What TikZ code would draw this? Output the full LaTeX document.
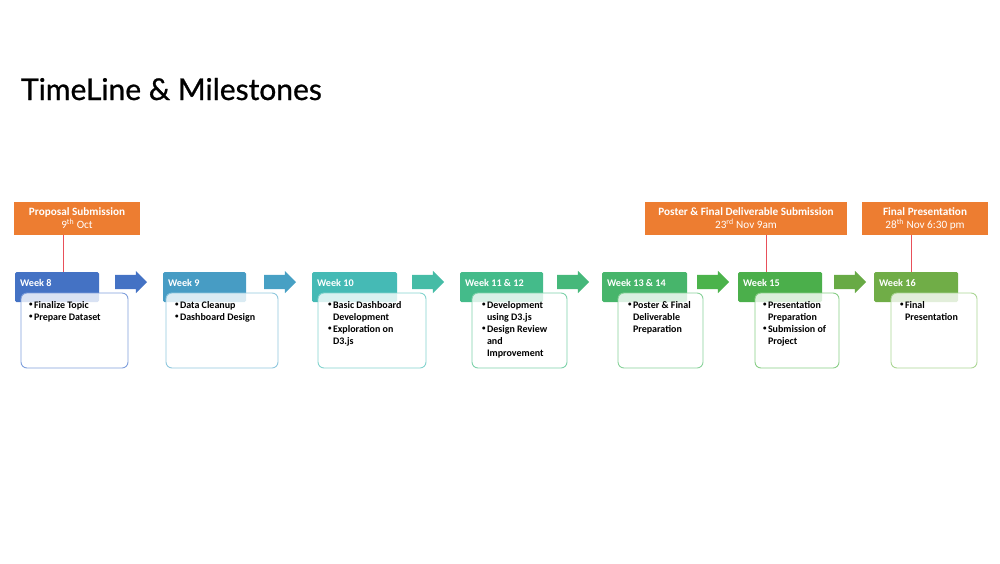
\documentclass[tikz,border=0pt]{standalone}
\usepackage{fontspec}
\setmainfont{Carlito}
\newfontfamily\titlefont[FakeBold=0.8]{Lato}
\usetikzlibrary{shapes.arrows}

\definecolor{wkA}{HTML}{4472C4}
\definecolor{wkB}{HTML}{479CC4}
\definecolor{wkC}{HTML}{45BAB5}
\definecolor{wkD}{HTML}{44BB8A}
\definecolor{wkE}{HTML}{47B56B}
\definecolor{wkF}{HTML}{4BAF4B}
\definecolor{wkG}{HTML}{70AD47}
\definecolor{arA}{HTML}{4472C4}
\definecolor{arB}{HTML}{47A0C4}
\definecolor{arC}{HTML}{45BCA6}
\definecolor{arD}{HTML}{45B87A}
\definecolor{arE}{HTML}{4BB34B}
\definecolor{arF}{HTML}{68AA45}
\definecolor{bdA}{HTML}{7F9FDC}
\definecolor{bdB}{HTML}{90C8DE}
\definecolor{bdC}{HTML}{84D4CE}
\definecolor{bdD}{HTML}{7ED2AA}
\definecolor{bdE}{HTML}{88D29A}
\definecolor{bdF}{HTML}{88CE86}
\definecolor{bdG}{HTML}{ABD694}
\definecolor{msorange}{HTML}{ED7D31}
\definecolor{msred}{HTML}{E8505A}

\newcommand{\bul}{\makebox[5pt][l]{\raisebox{0.25ex}{\fontsize{7}{7}\selectfont•}}}
\newcommand{\ind}{\hspace*{5pt}}

\begin{document}
\begin{tikzpicture}[
    x=1pt, y=-1pt,
    every node/.style={inner sep=0pt, outer sep=0pt},
    weekhdr/.style={rectangle, rounded corners=1.5pt, anchor=north west, minimum height=30pt},
    hdrtext/.style={anchor=west, text=white, font=\fontsize{10.2}{12}\selectfont\bfseries},
    taskbox/.style={rectangle, draw, line width=0.9pt, rounded corners=6pt, fill=white, fill opacity=0.8, anchor=north west, minimum height=75pt},
    tasktext/.style={anchor=north west, align=left, font=\fontsize{10}{12}\selectfont\bfseries},
    stepArrow/.style={single arrow, single arrow head extend=4pt, inner ysep=7pt, inner xsep=0pt, minimum height=32pt, anchor=west},
    milestone/.style={rectangle, fill=msorange, text=white, align=center, minimum height=33pt, anchor=north west, font=\fontsize{11.2}{13}\selectfont},
    msline/.style={draw=msred, line width=0.8pt}
]
    \useasboundingbox (0,0) rectangle (1000,563);

    % Title
    \node (title) [anchor=base west, font=\titlefont\fontsize{30}{34}\selectfont] at (21,100) {TimeLine \& Milestones};

    % Milestones
    \node (ms1) [milestone, minimum width=126pt] at (14,202) {\textbf{Proposal Submission}\\9\textsuperscript{th} Oct};
    \node (ms2) [milestone, minimum width=202pt] at (645,202) {\textbf{Poster \& Final Deliverable Submission}\\23\textsuperscript{rd} Nov 9am};
    \node (ms3) [milestone, minimum width=126pt] at (862,202) {\textbf{Final Presentation}\\28\textsuperscript{th} Nov 6:30 pm};

    % Week headers
    \node (w8)  [weekhdr, fill=wkA, minimum width=84pt] at (15,272) {};
    \node (w9)  [weekhdr, fill=wkB, minimum width=83pt] at (163,272) {};
    \node (w10) [weekhdr, fill=wkC, minimum width=85pt] at (312,272) {};
    \node (w11) [weekhdr, fill=wkD, minimum width=83pt] at (460,272) {};
    \node (w13) [weekhdr, fill=wkE, minimum width=85pt] at (602,272) {};
    \node (w15) [weekhdr, fill=wkF, minimum width=84pt] at (738,272) {};
    \node (w16) [weekhdr, fill=wkG, minimum width=84pt] at (874,272) {};

    \node [hdrtext] at ([xshift=5pt, yshift=-11pt]w8.north west) {Week 8};
    \node [hdrtext] at ([xshift=5pt, yshift=-11pt]w9.north west) {Week 9};
    \node [hdrtext] at ([xshift=5pt, yshift=-11pt]w10.north west) {Week 10};
    \node [hdrtext] at ([xshift=5pt, yshift=-11pt]w11.north west) {Week 11 \& 12};
    \node [hdrtext] at ([xshift=5pt, yshift=-11pt]w13.north west) {Week 13 \& 14};
    \node [hdrtext] at ([xshift=5pt, yshift=-11pt]w15.north west) {Week 15};
    \node [hdrtext] at ([xshift=5pt, yshift=-11pt]w16.north west) {Week 16};

    % Task boxes
    \node (b8)  [taskbox, draw=bdA, minimum width=107pt] at (21,293) {};
    \node (b9)  [taskbox, draw=bdB, minimum width=112pt] at (166,293) {};
    \node (b10) [taskbox, draw=bdC, minimum width=108pt] at (318,293) {};
    \node (b11) [taskbox, draw=bdD, minimum width=95pt] at (472,293) {};
    \node (b13) [taskbox, draw=bdE, minimum width=85pt] at (618,293) {};
    \node (b15) [taskbox, draw=bdF, minimum width=84pt] at (755,293) {};
    \node (b16) [taskbox, draw=bdG, minimum width=86pt] at (891,293) {};

    \node [tasktext] at ([xshift=8pt, yshift=-8pt]b8.north west) {\bul Finalize Topic\\\bul Prepare Dataset};
    \node [tasktext] at ([xshift=9pt, yshift=-8pt]b9.north west) {\bul Data Cleanup\\\bul Dashboard Design};
    \node [tasktext] at ([xshift=10pt, yshift=-8pt]b10.north west) {\bul Basic Dashboard\\\ind Development\\\bul Exploration on\\\ind D3.js};
    \node [tasktext] at ([xshift=10pt, yshift=-8pt]b11.north west) {\bul Development\\\ind using D3.js\\\bul Design Review\\\ind and\\\ind Improvement};
    \node [tasktext] at ([xshift=10pt, yshift=-8pt]b13.north west) {\bul Poster \& Final\\\ind Deliverable\\\ind Preparation};
    \node [tasktext] at ([xshift=8pt, yshift=-8pt]b15.north west) {\bul Presentation\\\ind Preparation\\\bul Submission of\\\ind Project};
    \node [tasktext] at ([xshift=9pt, yshift=-8pt]b16.north west) {\bul Final\\\ind Presentation};

    % Step arrows
    \node (a1) [stepArrow, fill=arA] at (115,282) {};
    \node (a2) [stepArrow, fill=arB] at (264,282) {};
    \node (a3) [stepArrow, fill=arC] at (412,282) {};
    \node (a4) [stepArrow, fill=arD] at (557,282) {};
    \node (a5) [stepArrow, fill=arE] at (697,282) {};
    \node (a6) [stepArrow, fill=arF] at (834,282) {};

    % Milestone links
    \draw [msline] (ms1.south -| 63,0) -- (w8.north -| 63,0);
    \draw [msline] (ms2.south -| 766,0) -- (w15.north -| 766,0);
    \draw [msline] (ms3.south -| 911,0) -- (w16.north -| 911,0);

\end{tikzpicture}
\end{document}
